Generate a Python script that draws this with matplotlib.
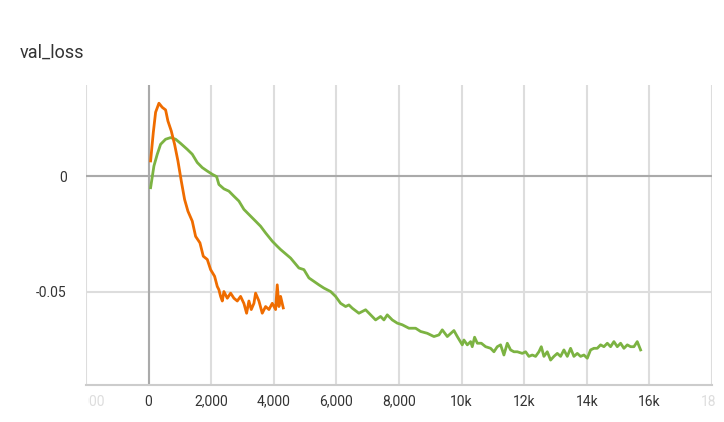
import matplotlib
matplotlib.use("Agg")
import matplotlib.pyplot as plt
from matplotlib.transforms import Bbox, TransformedBbox, blended_transform_factory

plt.rcParams['font.family'] = ['Roboto', 'DejaVu Sans']

# run 1 (orange, short)
orange_step = [64, 150, 224, 330, 437, 543, 617, 724, 830, 937, 1044, 1150, 1257, 1395,
               1502, 1640, 1747, 1875, 1981, 2109, 2194, 2246, 2300, 2354, 2406, 2514,
               2620, 2726, 2833, 2939, 3046, 3131, 3205, 3280, 3365, 3418, 3525, 3631,
               3738, 3845, 3951, 4058, 4110, 4164, 4217, 4302]
orange_loss = [0.0067, 0.019, 0.0278, 0.0317, 0.0299, 0.0288, 0.024, 0.0197, 0.0139, 0.0067,
               -0.002, -0.010, -0.0151, -0.0194, -0.026, -0.0288, -0.0346, -0.036, -0.0404,
               -0.0433, -0.0477, -0.0491, -0.052, -0.054, -0.0499, -0.0528, -0.0506, -0.0528,
               -0.054, -0.052, -0.0551, -0.0593, -0.054, -0.0577, -0.055, -0.0506, -0.054,
               -0.0593, -0.0564, -0.0577, -0.055, -0.0577, -0.047, -0.0564, -0.052, -0.057]

# run 2 (green, long)
green_step = [64, 170, 277, 383, 543, 703, 863, 1022, 1236, 1395, 1555, 1715, 1875, 2035,
              2173, 2246, 2406, 2566, 2726, 2885, 3045, 3205, 3418, 3578, 3738, 3952, 4111,
              4217, 4537, 4802, 4962, 5122, 5282, 5441, 5601, 5815, 5974, 6134, 6294, 6400,
              6506, 6719, 6933, 7093, 7252, 7412, 7518, 7625, 7785, 7945, 8104, 8317, 8530,
              8690, 8904, 9116, 9276, 9383, 9543, 9755, 9862, 10022, 10074, 10182, 10288,
              10340, 10415, 10502, 10630, 10767, 10927, 11033, 11140, 11246, 11352, 11460,
              11565, 11672, 11780, 11940, 12045, 12150, 12258, 12364, 12470, 12546, 12630,
              12737, 12843, 12950, 13057, 13163, 13269, 13377, 13482, 13588, 13696, 13802,
              13908, 14015, 14121, 14227, 14334, 14441, 14547, 14655, 14760, 14866, 14974,
              15080, 15186, 15294, 15400, 15506, 15612, 15719]
green_loss = [-0.0049, 0.0045, 0.0096, 0.0139, 0.0161, 0.0168, 0.0161, 0.0143, 0.0117, 0.0096,
              0.006, 0.0038, 0.0023, 0.0009, -0.0001, -0.0035, -0.0054, -0.0064, -0.0086,
              -0.0107, -0.0143, -0.0165, -0.0194, -0.0216, -0.0245, -0.0281, -0.0303,
              -0.0317, -0.0354, -0.0397, -0.0404, -0.044, -0.0455, -0.047, -0.0484, -0.0499,
              -0.052, -0.055, -0.0564, -0.0557, -0.0571, -0.0593, -0.0578, -0.06, -0.0622,
              -0.0607, -0.0622, -0.06, -0.0622, -0.0636, -0.0643, -0.0658, -0.0658, -0.0672,
              -0.068, -0.0694, -0.0687, -0.0665, -0.0694, -0.0668, -0.0694, -0.073, -0.0709,
              -0.073, -0.0716, -0.0738, -0.0697, -0.0723, -0.0723, -0.0738, -0.0745, -0.076,
              -0.0738, -0.073, -0.0774, -0.0723, -0.0752, -0.076, -0.076, -0.0767, -0.076,
              -0.078, -0.0774, -0.078, -0.076, -0.0738, -0.078, -0.076, -0.0796, -0.078,
              -0.0767, -0.078, -0.0752, -0.078, -0.0745, -0.078, -0.0767, -0.078, -0.0774,
              -0.0788, -0.0752, -0.0745, -0.0745, -0.073, -0.0738, -0.0723, -0.0738, -0.0716,
              -0.0738, -0.0723, -0.0745, -0.073, -0.0738, -0.0738, -0.0716, -0.0752]

x_ticks = [-2000, 0, 2000, 4000, 6000, 8000, 10000, 12000, 14000, 16000, 18000]
x_labels = ['-2,000', '0', '2,000', '4,000', '6,000', '8,000', '10k', '12k', '14k', '16k', '18k']
y_ticks = [0, -0.05]
y_labels = ['0', '-0.05']

fig = plt.figure(figsize=(7.24, 4.22), dpi=100)
ax = fig.add_axes([86/724, 1 - 385/422, 626/724, 300/422])

ax.plot(green_step, green_loss, color='#7cb342', lw=2, zorder=3)
ax.plot(orange_step, orange_loss, color='#ef6c00', lw=2, zorder=4)

ax.set_xlim(-2000, 18000)
ax.set_ylim(-0.0904, 0.0396)
ax.set_xticks(x_ticks)
ax.set_xticklabels(x_labels)
ax.set_yticks(y_ticks)
ax.set_yticklabels(y_labels)
ax.tick_params(length=0, labelsize=10, colors='#333333', pad=7)
ax.tick_params(axis='y', pad=14)

ax.grid(True, color='#dddddd', lw=1.5, zorder=1)
ax.axhline(0, color='#aaaaaa', lw=1.5, zorder=2)
ax.axvline(0, color='#aaaaaa', lw=1.5, zorder=2)

for s in ['top', 'right', 'left']:
    ax.spines[s].set_visible(False)
ax.spines['bottom'].set_color('#cccccc')
ax.spines['bottom'].set_linewidth(1.5)

# end labels are faded and cut at the plot edges
clip = TransformedBbox(Bbox([[0.003, 0], [1.004, 1]]),
                       blended_transform_factory(ax.transAxes, fig.transFigure))
labels = ax.get_xticklabels()
for lab in (labels[0], labels[-1]):
    lab.set_color('#dddddd')
    lab.set_clip_box(clip)
    lab.set_clip_on(True)

fig.text(20/724, 1 - 53/422, 'val_loss', fontsize=13, color='#333333', va='center')

fig.savefig('out.png', dpi=100)
